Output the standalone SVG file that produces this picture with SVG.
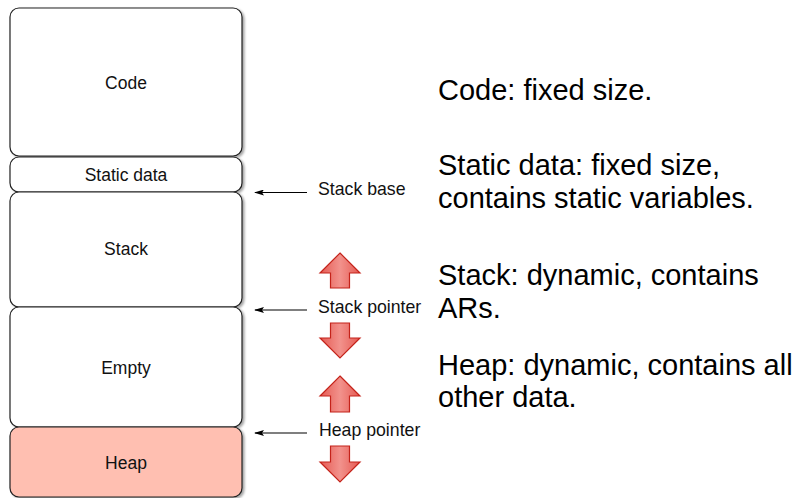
<svg xmlns="http://www.w3.org/2000/svg" width="798" height="498" viewBox="0 0 798 498">
  <defs>
    <filter id="shadow" x="-5%" y="-5%" width="115%" height="115%">
      <feDropShadow dx="2" dy="1.5" stdDeviation="1.2" flood-color="#000" flood-opacity="0.35"/>
    </filter>
    <linearGradient id="blockFill" x1="0" y1="0" x2="1" y2="0">
      <stop offset="0" stop-color="#e55a53"/>
      <stop offset="0.5" stop-color="#f2928c"/>
      <stop offset="1" stop-color="#e55a53"/>
    </linearGradient>
    <marker id="head" viewBox="0 0 10 6" refX="9" refY="3" markerWidth="10" markerHeight="6" orient="auto" markerUnits="userSpaceOnUse">
      <path d="M10,3 L0,0 L2,3 L0,6 Z" fill="#000"/>
    </marker>
  </defs>
  <style>
    .seg { fill: #fff; stroke: #222; stroke-width: 1.2; filter: url(#shadow); }
    .heap { fill: #ffbfb1; }
    .lbl { font-family: "Liberation Sans", Arial, sans-serif; font-size: 17.5px; fill: #111; text-anchor: middle; }
    .ptr { font-family: "Liberation Sans", Arial, sans-serif; font-size: 17.7px; fill: #111; }
    .note { font-family: "Liberation Sans", Arial, sans-serif; font-size: 29px; fill: #000; }
    .wire { stroke: #000; stroke-width: 1.2; fill: none; }
    .block { fill: url(#blockFill); stroke: #c4231a; stroke-width: 1.2; stroke-linejoin: miter; }
  </style>

  <rect width="798" height="498" fill="#fff"/>

  <!-- memory layout column -->
  <g id="code">
    <rect class="seg" x="10" y="8" width="232" height="148" rx="9"/>
    <text class="lbl" x="126" y="89">Code</text>
  </g>
  <g id="static-data">
    <rect class="seg" x="10" y="157" width="232" height="35" rx="9"/>
    <text class="lbl" x="126" y="181">Static data</text>
  </g>
  <g id="stack">
    <rect class="seg" x="10" y="192" width="232" height="115" rx="9"/>
    <text class="lbl" x="126" y="255">Stack</text>
  </g>
  <g id="empty">
    <rect class="seg" x="10" y="307" width="232" height="120" rx="9"/>
    <text class="lbl" x="126" y="374">Empty</text>
  </g>
  <g id="heap">
    <rect class="seg heap" x="10" y="427" width="232" height="70" rx="9"/>
    <text class="lbl" x="126" y="469">Heap</text>
  </g>

  <!-- pointer connectors -->
  <g id="connectors">
    <line class="wire" x1="307" y1="192.5" x2="255" y2="192.5" marker-end="url(#head)"/>
    <line class="wire" x1="307" y1="310" x2="255" y2="310" marker-end="url(#head)"/>
    <line class="wire" x1="307" y1="433" x2="255" y2="433" marker-end="url(#head)"/>
  </g>

  <!-- pointer labels -->
  <g id="stack-base">
    <text class="ptr" x="318" y="195">Stack base</text>
  </g>
  <g id="stack-pointer">
    <text class="ptr" x="318" y="313">Stack pointer</text>
    <path class="block" d="M340,253 L360,273 L349.5,273 L349.5,288 L330.5,288 L330.5,273 L320,273 Z"/>
    <path class="block" d="M330.5,323 L349.5,323 L349.5,338 L360,338 L340,358 L320,338 L330.5,338 Z"/>
  </g>
  <g id="heap-pointer">
    <text class="ptr" x="319" y="436">Heap pointer</text>
    <path class="block" d="M340,376 L360,396 L349.5,396 L349.5,412 L330.5,412 L330.5,396 L320,396 Z"/>
    <path class="block" d="M330.5,446 L349.5,446 L349.5,462 L360,462 L340,482 L320,462 L330.5,462 Z"/>
  </g>

  <!-- descriptions -->
  <g id="notes">
    <text class="note" x="438" y="100">Code: fixed size.</text>
    <text class="note" x="438" y="175">Static data: fixed size,</text>
    <text class="note" x="438" y="208">contains static variables.</text>
    <text class="note" x="438" y="285">Stack: dynamic, contains</text>
    <text class="note" x="438" y="318">ARs.</text>
    <text class="note" x="438" y="375">Heap: dynamic, contains all</text>
    <text class="note" x="438" y="407">other data.</text>
  </g>
</svg>
